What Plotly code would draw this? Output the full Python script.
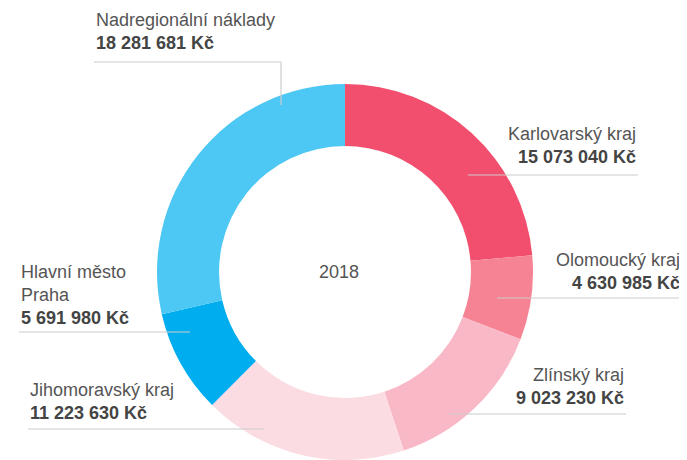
import plotly.graph_objects as go

regions = ["Karlovarský kraj", "Olomoucký kraj", "Zlínský kraj",
           "Jihomoravský kraj", "Hlavní město Praha", "Nadregionální náklady"]
values = [15073040, 4630985, 9023230, 11223630, 5691980, 18281681]
colors = ["#F24E6D", "#F58393", "#F9B8C5", "#FBDCE2", "#00AEEF", "#4DC7F4"]
center_label = "2018"

# page has an 8px body margin; figure occupies the rest of the 687x460 window
OFF = 8
W, H = 687 - OFF, 460 - OFF
FONT = "Liberation Sans, Arial"


def px(x):
    return (x - OFF) / W


def py(y):
    return 1 - (y - OFF) / H


def fmt(v):
    return f"{v:,}".replace(",", " ") + " Kč"


fig = go.Figure(go.Pie(
    labels=regions, values=values, hole=0.67, sort=False,
    direction="clockwise", rotation=0,
    marker=dict(colors=colors, line=dict(width=0)),
    textinfo="none", hoverinfo="label+value", showlegend=False,
    domain=dict(x=[px(157), px(533)], y=[0, py(84)]),
))

# label layout: (name lines, anchor x, align, first line y, leader y, leader x0, x1)
label_layout = [
    (["Karlovarský kraj"], 638, "right", 134, 175, 468, 638),
    (["Olomoucký kraj"], 682, "right", 260, 298, 497, 682),
    (["Zlínský kraj"], 626, "right", 375, 414, 449, 626),
    (["Jihomoravský kraj"], 28, "left", 390, 429, 28, 264),
    (["Hlavní město", "Praha"], 19, "left", 272, 332, 19, 190),
    (["Nadregionální náklady"], 94, "left", 20, 62, 94, 281),
]

ann = []
shapes = []
for (lines, ax, align, y0, ly, lx0, lx1), v in zip(label_layout, values):
    xanchor = "right" if align == "right" else "left"
    y = y0
    for ln in lines:
        ann.append(dict(x=px(ax), y=py(y), xref="paper", yref="paper",
                        text=ln, showarrow=False, xanchor=xanchor, yanchor="middle",
                        font=dict(size=18, color="#555555", family=FONT)))
        y += 23
    ann.append(dict(x=px(ax), y=py(y), xref="paper", yref="paper",
                    text="<b>" + fmt(v) + "</b>", showarrow=False, xanchor=xanchor,
                    yanchor="middle",
                    font=dict(size=18, color="#444444", family=FONT)))
    shapes.append(dict(type="line", xref="paper", yref="paper",
                       x0=px(lx0), x1=px(lx1), y0=py(ly), y1=py(ly),
                       line=dict(color="#CCCCCC", width=1.2)))

# vertical part of the top leader line
shapes.append(dict(type="line", xref="paper", yref="paper",
                   x0=px(281), x1=px(281), y0=py(62), y1=py(105),
                   line=dict(color="#CCCCCC", width=1.2)))

ann.append(dict(x=px(339), y=py(272), xref="paper", yref="paper",
                text=center_label, showarrow=False, xanchor="center", yanchor="middle",
                font=dict(size=18, color="#555555", family=FONT)))

fig.update_layout(width=W, height=H, margin=dict(l=0, r=0, t=0, b=0),
                  paper_bgcolor="white", plot_bgcolor="white",
                  annotations=ann, shapes=shapes)

fig.write_html("out.html")
